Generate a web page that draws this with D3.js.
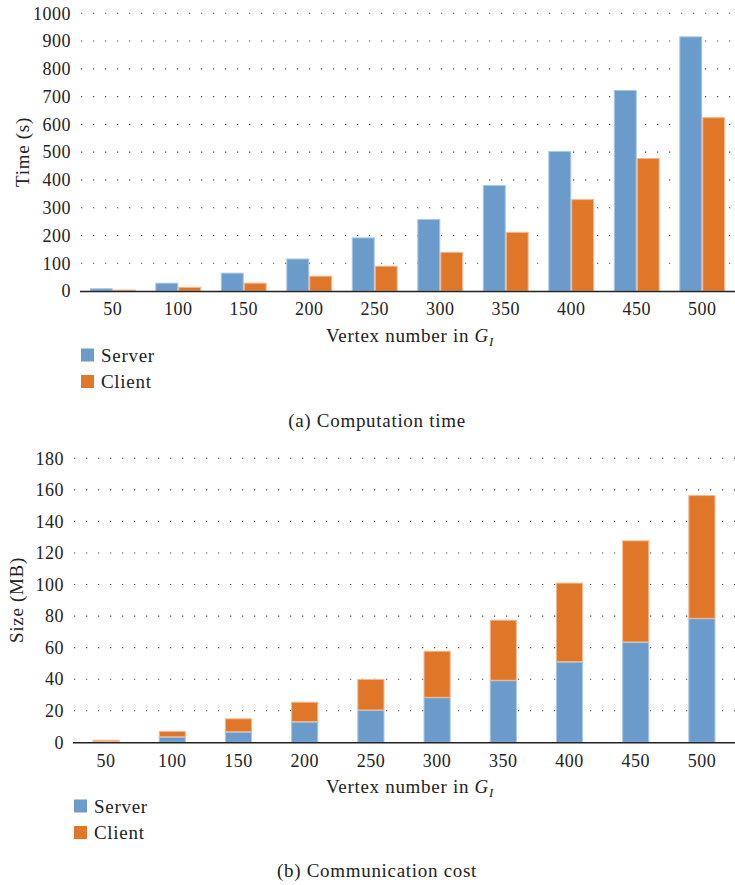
<!DOCTYPE html>
<html><head><meta charset="utf-8">
<script src="https://cdn.jsdelivr.net/npm/d3@7"></script>
<style>
body{margin:0;background:#fff;}
svg{display:block;}
</style></head>
<body>
<svg id="c" width="735" height="885"></svg>
<script>
const categories = ["50","100","150","200","250","300","350","400","450","500"];
const timeServer = [10, 30, 66, 117, 193, 259, 382, 504, 724, 917];
const timeClient = [5, 15, 30, 55, 91, 141, 213, 331, 479, 626];
const sizeServer = [0.5, 3.5, 6.7, 13.1, 20.5, 28.5, 39.3, 51.1, 63.6, 78.6];
const sizeClient = [1.1, 3.7, 8.5, 12.6, 19.6, 29.5, 38.4, 50.1, 64.4, 78.1];
const timeTicks = [0,100,200,300,400,500,600,700,800,900,1000];
const sizeTicks = [0,20,40,60,80,100,120,140,160,180];
const seriesNames = ["Server","Client"];
const colors = ["#6a9bcb","#e07728"];
const edges = ["#a9c6e6","#f3b893"];

const svg = d3.select("#c");
const TFS = 18, LFS = 19;
function txt(g, size, ls){
  return g.append("text").attr("font-family","Liberation Serif").attr("font-size",size)
    .attr("letter-spacing",ls).attr("fill","#222");
}

function grid(g, y, ticks, x0, x1){
  ticks.filter(t=>t>0).forEach(t=>{
    g.append("line").attr("x1",x0+1).attr("x2",x1).attr("y1",y(t)).attr("y2",y(t))
      .attr("stroke","#444").attr("stroke-width",1.1).attr("stroke-dasharray","1.2,10.8");
  });
  ticks.forEach(t=>{
    txt(g,TFS,0.5).attr("x",x0-9).attr("y",y(t)).attr("dy","0.35em")
      .attr("text-anchor","end").text(t);
  });
}
function xlabels(g, x, yb){
  categories.forEach(c=>{
    txt(g,TFS,0.5).attr("x",x(c)+x.bandwidth()/2).attr("y",yb)
      .attr("text-anchor","middle").text(c);
  });
}
function xtitle(g, cx, yb){
  const t = txt(g,LFS,0.7).attr("x",cx).attr("y",yb).attr("text-anchor","middle");
  t.append("tspan").text("Vertex number in ");
  t.append("tspan").attr("font-style","italic").text("G");
  t.append("tspan").attr("font-style","italic").attr("font-size",13).attr("dy",4).text("I");
}
function legend(g, x, y0, dy){
  seriesNames.forEach((n,i)=>{
    g.append("rect").attr("x",x).attr("y",y0+i*dy-13).attr("width",13).attr("height",13).attr("fill",colors[i]);
    txt(g,LFS,0.7).attr("x",x+20).attr("y",y0+i*dy).text(n);
  });
}

// ---- Top chart ----
{
  const g = svg.append("g");
  const x0=80, x1=735;
  const x = d3.scaleBand().domain(categories).range([x0,x1]).paddingInner(0.3).paddingOuter(0.15);
  const y = d3.scaleLinear().domain([0,1000]).range([291,13.3]);
  const xs = d3.scaleBand().domain(seriesNames).range([0,x.bandwidth()]);
  grid(g, y, timeTicks, x0, x1);
  const data = [timeServer,timeClient];
  data.forEach((arr,si)=>{
    g.selectAll(null).data(arr).enter().append("rect")
      .attr("x",(d,i)=>x(categories[i])+xs(seriesNames[si])+0.5)
      .attr("width",xs.bandwidth()-1)
      .attr("y",d=>y(d)+0.5)
      .attr("height",d=>Math.max(0,y(0)-y(d)-0.5))
      .attr("fill",colors[si]).attr("stroke",edges[si]).attr("stroke-width",1);
  });
  g.append("line").attr("x1",x0).attr("x2",x1).attr("y1",y(0)+0.5).attr("y2",y(0)+0.5).attr("stroke","#222").attr("stroke-width",1.6);
  xlabels(g, x, 315);
  xtitle(g, 410, 342);
  legend(g, 81, 361.5, 26.5);
  txt(g,LFS,0.7).attr("transform","translate(29,152) rotate(-90)").attr("text-anchor","middle").text("Time (s)");
  txt(g,LFS,0.7).attr("x",377).attr("y",427).attr("text-anchor","middle").text("(a) Computation time");
}

// ---- Bottom chart ----
{
  const g = svg.append("g");
  const x0=73, x1=735;
  const x = d3.scaleBand().domain(categories).range([x0,x1]).paddingInner(0.59).paddingOuter(0.295);
  const y = d3.scaleLinear().domain([0,180]).range([742.3,458.3]);
  grid(g, y, sizeTicks, x0, x1);
  const rows = categories.map((c,i)=>({cat:c, Server:sizeServer[i], Client:sizeClient[i]}));
  const stack = d3.stack().keys(seriesNames)(rows);
  stack.forEach((layer,si)=>{
    g.selectAll(null).data(layer).enter().append("rect")
      .attr("x",d=>x(d.data.cat)+0.5)
      .attr("width",x.bandwidth()-1)
      .attr("y",d=>y(d[1])+0.5)
      .attr("height",d=>Math.max(0,y(d[0])-y(d[1])-0.5))
      .attr("fill",colors[si]).attr("stroke",edges[si]).attr("stroke-width",1);
  });
  g.append("line").attr("x1",x0).attr("x2",x1).attr("y1",y(0)+0.5).attr("y2",y(0)+0.5).attr("stroke","#222").attr("stroke-width",1.6);
  xlabels(g, x, 767);
  xtitle(g, 410, 793);
  legend(g, 74, 812.5, 26.5);
  txt(g,LFS,0.7).attr("transform","translate(23,600) rotate(-90)").attr("text-anchor","middle").text("Size (MB)");
  txt(g,LFS,0.7).attr("x",377).attr("y",877).attr("text-anchor","middle").text("(b) Communication cost");
}
</script>
</body></html>
